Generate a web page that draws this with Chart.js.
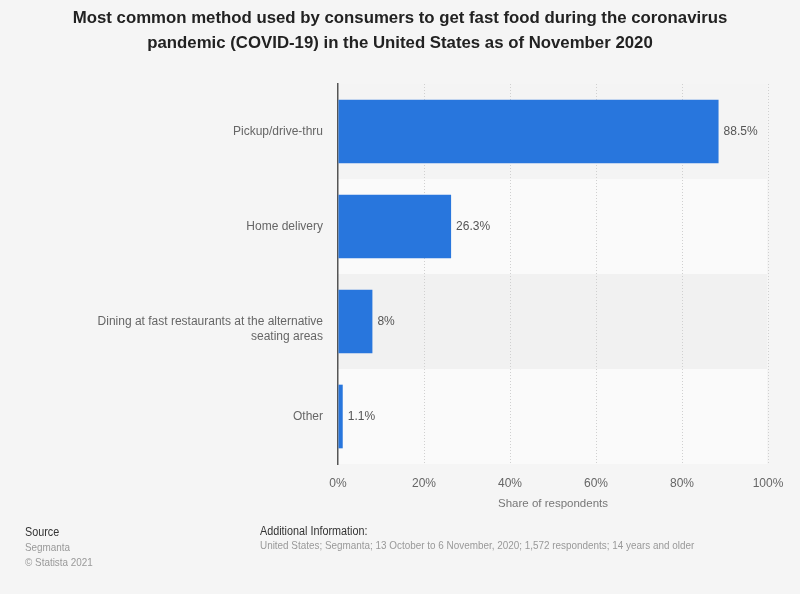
<!DOCTYPE html>
<html>
<head>
<meta charset="utf-8">
<script src="https://cdn.jsdelivr.net/npm/chart.js@4/dist/chart.umd.min.js"></script>
<style>
  html, body { margin: 0; padding: 0; background: #f5f5f5; }
  body { width: 800px; height: 594px; position: relative; overflow: hidden; font-family: "Liberation Sans", Arial, sans-serif; }
  #wrap { position: absolute; left: 0; top: 0; width: 800px; height: 594px; }
  #title { position: absolute; left: 0; top: 5px; width: 800px; text-align: center; font-weight: bold; font-size: 16.8px; line-height: 25px; color: #222; }
  .foot { position: absolute; transform-origin: 0 0; white-space: nowrap; }
  .head { color: #333; font-size: 12px; line-height: 15px; }
  .sub { color: #999; font-size: 11px; line-height: 14px; }
</style>
</head>
<body>
<div id="wrap"><canvas id="c" width="800" height="594"></canvas></div>
<div id="title">Most common method used by consumers to get fast food during the coronavirus<br>pandemic (COVID-19) in the United States as of November 2020</div>
<div class="foot" style="left:25px; top:525px; transform: scaleX(0.9);"><div class="head" style="line-height:15px">Source</div><div class="sub" style="line-height:15px">Segmanta</div><div class="sub" style="line-height:15px">© Statista 2021</div></div>
<div class="foot" style="left:260px; top:525px; transform: scaleX(0.9);"><div class="head" style="line-height:13px">Additional Information:</div><div class="sub">United States; Segmanta; 13 October to 6 November, 2020; 1,572 respondents; 14 years and older</div></div>
<script>
const categories = ["Pickup/drive-thru", "Home delivery", ["Dining at fast restaurants at the alternative", "seating areas"], "Other"];
const shares = [88.5, 26.3, 8, 1.1];
const shareLabels = ["88.5%", "26.3%", "8%", "1.1%"];
const xTicks = [0, 20, 40, 60, 80, 100];

const bandPlugin = {
  id: 'bands',
  beforeDraw(chart) {
    const {ctx, chartArea} = chart;
    const n = categories.length;
    const h = (chartArea.bottom - chartArea.top) / n;
    const cols = ['#f4f4f4', '#fafafa', '#f1f1f1', '#fafafa'];
    ctx.save();
    for (let i = 0; i < n; i++) {
      ctx.fillStyle = cols[i % cols.length];
      ctx.fillRect(chartArea.left, chartArea.top + i * h, chartArea.right - chartArea.left - 1, h);
    }
    ctx.restore();
  }
};

const labelPlugin = {
  id: 'valueLabels',
  afterDatasetsDraw(chart) {
    const {ctx} = chart;
    const meta = chart.getDatasetMeta(0);
    ctx.save();
    ctx.font = '12px "Liberation Sans", Arial, sans-serif';
    ctx.fillStyle = '#555';
    ctx.textAlign = 'left';
    ctx.textBaseline = 'middle';
    meta.data.forEach((el, i) => {
      ctx.fillText(shareLabels[i], el.x + 5, el.y);
    });
    ctx.restore();
  }
};

new Chart(document.getElementById('c'), {
  type: 'bar',
  data: {
    labels: categories,
    datasets: [{
      data: shares,
      backgroundColor: '#2876dd',
      borderWidth: 0,
      categoryPercentage: 1,
      barPercentage: 0.67
    }]
  },
  options: {
    indexAxis: 'y',
    responsive: false,
    animation: false,
    events: [],
    layout: { padding: { top: 84, bottom: 83, left: 0, right: 32 } },
    plugins: { legend: { display: false }, tooltip: { enabled: false }, title: { display: false } },
    scales: {
      x: {
        min: 0, max: 100,
        afterBuildTicks(scale) { scale.ticks = xTicks.map(v => ({value: v})); },
        afterFit(scale) { scale.height = 47; },
        ticks: {
          callback: v => v + '%',
          color: '#666',
          font: { family: '"Liberation Sans", Arial, sans-serif', size: 12 },
          padding: 12,
          maxRotation: 0
        },
        grid: {
          drawTicks: false,
          color: ctx => ctx.tick && ctx.tick.value === 0 ? 'rgba(0,0,0,0)' : '#d0d0d0',
          lineWidth: 1
        },
        border: { display: false, dash: [1, 2] },
        title: {
          display: true,
          text: 'Share of respondents',
          color: '#777',
          font: { family: '"Liberation Sans", Arial, sans-serif', size: 11.5 },
          padding: { top: 4, bottom: 0 }
        }
      },
      y: {
        afterFit(scale) { scale.width = 338; },
        ticks: {
          color: '#666',
          font: { family: '"Liberation Sans", Arial, sans-serif', size: 12, lineHeight: 1.25 },
          padding: 15,
          crossAlign: 'near',
          callback(value) {
            const lab = categories[value];
            // multi-line labels start at the row centre, as in the reference
            return Array.isArray(lab) ? [''].concat(lab) : lab;
          }
        },
        grid: { display: false, drawTicks: false },
        border: { display: true, color: '#555', width: 1.5 }
      }
    }
  },
  plugins: [bandPlugin, labelPlugin]
});
</script>
</body>
</html>
